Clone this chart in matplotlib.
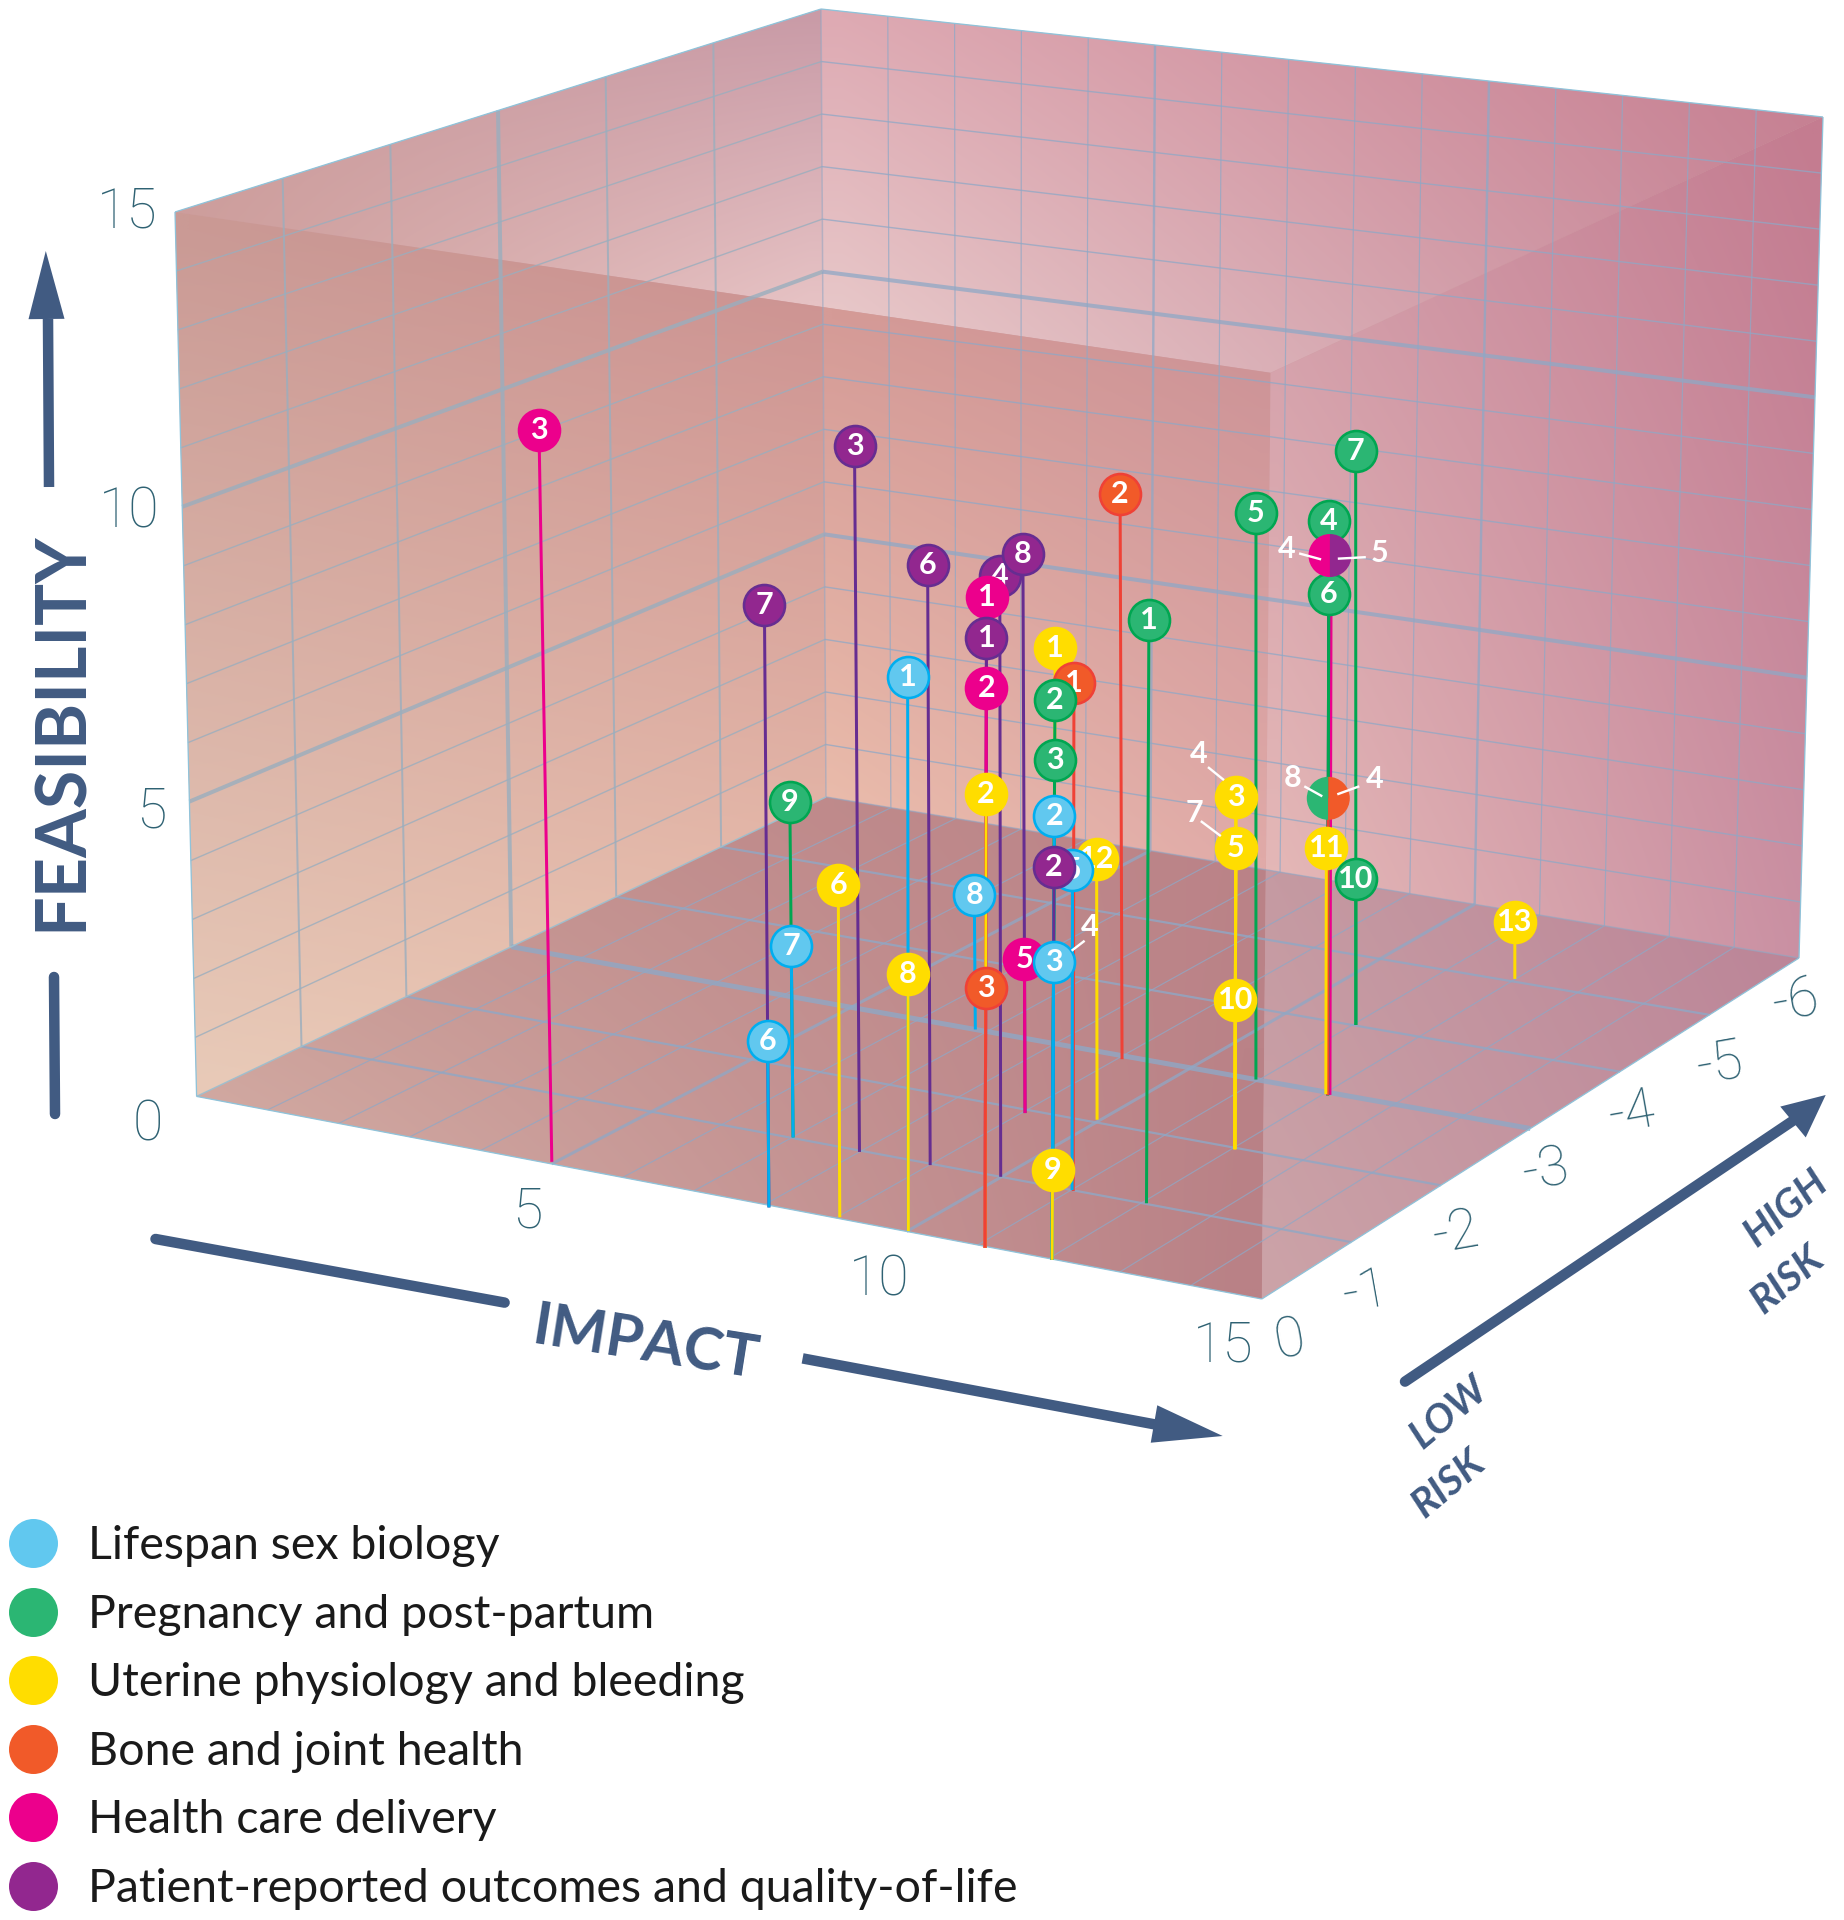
# plot.py
# 3D lollipop chart of research priorities: impact / risk / feasibility
import numpy as np
import matplotlib
matplotlib.use("Agg")
import matplotlib.pyplot as plt
from matplotlib.patches import Polygon, Wedge

# -----------------------
# data
# -----------------------
LIFESPAN_IDS = [1, 2, 3, 4, 5, 6, 7, 8]
LIFESPAN_IMPACT = [10.01, 12.06, 12.06, 12.06, 11.01, 8.1, 7.01, 6.83]
LIFESPAN_RISK = [-0.01, 0.01, 0.01, 0.01, -1.0, 0.03, -1.01, -3.0]
LIFESPAN_FEAS = [9.11, 7.25, 4.87, 4.87, 5.33, 2.75, 3.23, 2.35]

PREGNANCY_IDS = [1, 2, 3, 4, 5, 6, 7, 8, 9, 10]
PREGNANCY_IMPACT = [12.06, 12.06, 12.06, 12.07, 10.96, 12.07, 11.04, 12.07, 7.01, 11.04]
PREGNANCY_RISK = [-1.01, 0.01, 0.01, -2.96, -3.0, -2.96, -4.01, -2.96, -1.01, -4.01]
PREGNANCY_FEAS = [9.68, 9.15, 8.17, 9.84, 9.76, 8.59, 10.06, 5.09, 5.66, 2.56]

UTERINE_IDS = [1, 2, 3, 4, 5, 6, 7, 8, 9, 10, 11, 12, 13]
UTERINE_IMPACT = [12.06, 11.13, 12.04, 12.04, 12.04, 9.03, 12.04, 10.01, 12.06, 12.04, 12.03, 9.96, 11.99]
UTERINE_RISK = [0.01, 0.02, -1.98, -1.98, -1.98, -0.02, -1.98, -0.01, 0.01, -1.98, -2.97, -2.04, -5.04]
UTERINE_FEAS = [9.99, 7.44, 5.94, 5.94, 5.08, 5.48, 5.08, 4.22, 1.47, 2.52, 4.23, 4.43, 1.01]

BONE_IDS = [1, 2, 3, 4]
BONE_IMPACT = [11.04, 9.06, 11.13, 12.07]
BONE_RISK = [-0.99, -2.95, 0.02, -2.96]
BONE_FEAS = [8.46, 9.79, 4.26, 5.09]

HEALTH_IDS = [1, 2, 3, 4, 5]
HEALTH_IMPACT = [11.13, 11.13, 4.96, 12.09, 9.04]
HEALTH_RISK = [0.02, 0.02, -0.03, -2.97, -1.95]
HEALTH_FEAS = [10.66, 9.17, 12.23, 9.25, 2.63]

PATIENT_IDS = [1, 2, 3, 4, 5, 6, 7, 8]
PATIENT_IMPACT = [11.13, 12.06, 8.0, 9.99, 12.07, 9.01, 8.1, 9.04]
PATIENT_RISK = [0.02, 0.01, -0.98, -1.0, -2.96, -0.98, 0.03, -1.95]
PATIENT_FEAS = [9.99, 6.42, 11.88, 10.04, 9.25, 10.06, 9.96, 9.52]

GROUP_NAMES = [
    "Lifespan sex biology",
    "Pregnancy and post-partum",
    "Uterine physiology and bleeding",
    "Bone and joint health",
    "Health care delivery",
    "Patient-reported outcomes and quality-of-life",
]
FILL_COLORS = ["#61C8EF", "#2BB673", "#FFDD00", "#F15A29", "#EC008C", "#92278F"]
EDGE_COLORS = ["#00AEEF", "#00A651", "#FFDD00", "#EF4136", "#EC008C", "#662D91"]

IMPACT_TICKS = ["5", "10", "15"]
FEAS_TICKS = ["0", "5", "10", "15"]
RISK_TICKS = ["0", "-1", "-2", "-3", "-4", "-5", "-6"]

# -----------------------
# layout
# -----------------------
W, H = 1844, 1920
DPI = 100
MARKER_D = 41       # px
LINE_COL = "#415B82"
TICK_COL = "#2F6273"
GRID_COL = "#8FA8C6"
WALL_GRID_COL = "#9AAEBE"

# box corners on the canvas: front-left, front-right, back-right, back-left
FLOOR_PX = np.array([(196.6, 1096.4), (1261.8, 1299), (1799, 958), (826, 797)])
ROOF_PX = np.array([(175, 212), (1270.6, 372.8), (1823, 117), (821, 9)])
# stems stand upright on the right of the box, they don't follow its walls there
STEM_ROOF_PX = np.array([(166.4, 212), (1275, 372.8), (1799, 117), (821, 9)])

IMPACT_TICK_POS = [(527, 1212), (879, 1280), (1223, 1346)]
FEAS_TICK_POS = [(148, 1125), (151, 812), (129, 512), (127, 212)]
RISK_TICK_POS = [(1290, 1341), (1366, 1293), (1456, 1234), (1546, 1171),
                 (1632, 1114), (1720, 1064), (1796, 1002)]

LEGEND_Y = [1543, 1611.5, 1680, 1748.6, 1817, 1885.7]

# markers that carry their number on a leader: text offset, leader start, leader end
LEADERS = {
    (2, 4): ((-37, -43), (-28, -30), (-12, -17)),
    (2, 7): ((-41, -35), (-35, -27), (-15, -12)),
    (1, 8): ((-36, -20), (-24, -12), (-6, -2)),
    (3, 4): ((46, -19), (9, -4), (31, -12)),
    (4, 4): ((-44, -6), (-32, -2), (-10, 4)),
    (5, 5): ((51, -3), (9, 3), (37, 1.5)),
    (0, 4): ((36, -35), (18, -11), (31, -21)),
}
# two-tone markers (left group/id, right group/id)
SPLITS = [((4, 4), (5, 5)), ((1, 8), (3, 4))]
# these sit above their neighbours although they are higher up
RAISED = [(5, 2), (5, 8)]


def project(i, r, f, roof=ROOF_PX):
    a, b, c = i / 15, -r / 6, f / 15
    w = np.array([(1 - a) * (1 - b), a * (1 - b), a * b, (1 - a) * b])
    p = (1 - c) * (w @ FLOOR_PX) + c * (w @ roof)
    return float(p[0]), float(p[1])


def cross_point(p1, p2, p3, p4):
    a = np.array([[p2[0] - p1[0], p3[0] - p4[0]], [p2[1] - p1[1], p3[1] - p4[1]]])
    b = np.array([p3[0] - p1[0], p3[1] - p1[1]])
    t = np.linalg.solve(a, b)[0]
    return (p1[0] + t * (p2[0] - p1[0]), p1[1] + t * (p2[1] - p1[1]))


def hex_rgb(c):
    return np.array(matplotlib.colors.to_rgb(c))


def shaded(ax, poly, tl, tr, bl, br):
    # bilinear colour ramp over the bbox of the polygon
    xs = [p[0] for p in poly]
    ys = [p[1] for p in poly]
    t = np.linspace(0, 1, 24)
    tx, ty = np.meshgrid(t, t)
    img = np.zeros((24, 24, 3))
    for k in range(3):
        img[:, :, k] = ((1 - tx) * (1 - ty) * hex_rgb(tl)[k] + tx * (1 - ty) * hex_rgb(tr)[k]
                        + (1 - tx) * ty * hex_rgb(bl)[k] + tx * ty * hex_rgb(br)[k])
    im = ax.imshow(img, extent=(min(xs), max(xs), max(ys), min(ys)), aspect="auto",
                   interpolation="bilinear", zorder=1)
    im.set_clip_path(Polygon(poly, closed=True, transform=ax.transData))


def seg(ax, a, b, px, col, alpha=1.0, z=2, cap="butt"):
    ax.plot([a[0], b[0]], [a[1], b[1]], color=col, lw=px * 72 / DPI, alpha=alpha,
            zorder=z, solid_capstyle=cap)


def arrow_head(ax, base, tip, half):
    d = np.array(tip, float) - np.array(base, float)
    n = np.array([-d[1], d[0]]) / np.hypot(*d) * half
    b = np.array(base, float)
    ax.add_patch(Polygon([tip, b + n, b - n], closed=True, fc=LINE_COL, ec="none", zorder=3))


def main():
    fig = plt.figure(figsize=(W / DPI, H / DPI), dpi=DPI)
    ax = fig.add_axes([0, 0, 1, 1])
    ax.set_xlim(0, W)
    ax.set_ylim(H, 0)
    ax.axis("off")

    # -----------------------
    # box faces
    # -----------------------
    E, G, Hh, K = [tuple(p) for p in FLOOR_PX]
    A, B, C, D = [tuple(p) for p in ROOF_PX]
    M = cross_point(A, B, D, K)
    N = cross_point(K, Hh, B, G)

    ax.add_patch(Polygon([E, A, D, C, Hh, G], closed=True, fc="#D0A0A4", ec="none", zorder=0.5))
    shaded(ax, [A, D, M], "#C9999A", "#C99BA7", "#CFA09D", "#E6C2C4")
    shaded(ax, [D, C, B, M], "#DEAAB3", "#C67D90", "#E9CCCC", "#C88C9C")
    shaded(ax, [A, M, K, E], "#CA9A95", "#CB9090", "#E8CAB8", "#EDC4B0")
    shaded(ax, [M, B, N, K], "#D59B97", "#CC9296", "#ECBFAD", "#E0AAA8")
    shaded(ax, [E, K, N, G], "#C59590", "#BB8388", "#D8B4AB", "#B98186")
    shaded(ax, [B, C, Hh, N], "#D09AA8", "#C47C90", "#E6BAB8", "#C98FA2")
    shaded(ax, [N, Hh, G], "#C59AA2", "#BB8497", "#CCA3A8", "#C08C9C")

    # -----------------------
    # grids
    # -----------------------
    for f in range(1, 15):
        wide = f in (5, 10)
        seg(ax, project(0, 0, f), project(0, -6, f), 4 if wide else 1.4, WALL_GRID_COL, 0.8)
        seg(ax, project(0, -6, f), project(15, -6, f), 4 if wide else 1.4, GRID_COL, 0.75)
    for r in range(-5, 0):
        seg(ax, project(0, r, 0), project(0, r, 15), 4 if r == -3 else 2, WALL_GRID_COL, 0.8)
        seg(ax, project(0, r, 0), project(15, r, 0), 5 if r == -3 else 2.2, GRID_COL, 0.8)
    for i in range(1, 15):
        wide = i in (5, 10)
        seg(ax, project(i, -6, 0), project(i, -6, 15), 2.4 if wide else 1.2, GRID_COL, 0.75)
        seg(ax, project(i, 0, 0), project(i, -6, 0), 3 if wide else 1.2, GRID_COL, 0.75)

    seg(ax, D, K, 1.6, GRID_COL, 0.5)
    seg(ax, E, K, 1.5, "#9CC0D0", 0.9)
    seg(ax, K, Hh, 1.5, GRID_COL, 0.6)
    outline = [E, A, D, C, Hh, G, E]
    for a, b in zip(outline[:-1], outline[1:]):
        seg(ax, a, b, 1.3, "#8FC3DA", 1.0, z=2.5)

    # -----------------------
    # ticks
    # -----------------------
    tick_kw = dict(family="Roboto", weight="light", fontsize=40, color=TICK_COL,
                   ha="center", va="center", zorder=4)
    for s, p in zip(IMPACT_TICKS, IMPACT_TICK_POS):
        ax.text(p[0], p[1], s, **tick_kw)
    for s, p in zip(FEAS_TICKS, FEAS_TICK_POS):
        ax.text(p[0], p[1], s, **tick_kw)
    for s, p in zip(RISK_TICKS, RISK_TICK_POS):
        ax.text(p[0], p[1], s, rotation=10, **tick_kw)

    # -----------------------
    # axis arrows and titles
    # -----------------------
    seg(ax, (54, 977), (55, 1114), 10.5, LINE_COL, z=3, cap="round")
    seg(ax, (48, 319), (49, 487), 10.5, LINE_COL, z=3)
    arrow_head(ax, (46.5, 319), (45.8, 251), 18)
    ax.text(61, 731, "FEASIBILITY", family="Lato", weight="bold", fontsize=50.5, color=LINE_COL,
            rotation=90, ha="center", va="center", zorder=4)

    seg(ax, (155.5, 1239), (504.6, 1302.6), 10.5, LINE_COL, z=3, cap="round")
    seg(ax, (802.6, 1358.4), (1158, 1425), 10.5, LINE_COL, z=3)
    arrow_head(ax, (1154, 1424), (1222.7, 1436), 19)
    ax.text(646, 1344, "IMPACT", family="Lato", weight="bold", fontsize=43, color=LINE_COL,
            rotation=-9, ha="center", va="center", zorder=4)

    seg(ax, (1405, 1381.6), (1797, 1118), 10.5, LINE_COL, z=3, cap="round")
    arrow_head(ax, (1793, 1122), (1825.7, 1095), 20)
    for s, x, y in [("LOW", 1449, 1413), ("RISK", 1449, 1484), ("HIGH", 1786, 1208), ("RISK", 1788, 1280)]:
        ax.text(x, y, s, family="Lato", weight="bold", style="italic", fontsize=29, color=LINE_COL,
                rotation=40, ha="center", va="center", zorder=4)

    # -----------------------
    # lollipops
    # -----------------------
    groups = [
        (LIFESPAN_IDS, LIFESPAN_IMPACT, LIFESPAN_RISK, LIFESPAN_FEAS),
        (PREGNANCY_IDS, PREGNANCY_IMPACT, PREGNANCY_RISK, PREGNANCY_FEAS),
        (UTERINE_IDS, UTERINE_IMPACT, UTERINE_RISK, UTERINE_FEAS),
        (BONE_IDS, BONE_IMPACT, BONE_RISK, BONE_FEAS),
        (HEALTH_IDS, HEALTH_IMPACT, HEALTH_RISK, HEALTH_FEAS),
        (PATIENT_IDS, PATIENT_IMPACT, PATIENT_RISK, PATIENT_FEAS),
    ]
    points = []
    for g, (ids, imp, risk, feas) in enumerate(groups):
        for n, i, r, f in zip(ids, imp, risk, feas):
            points.append((g, n, project(i, r, f, STEM_ROOF_PX), project(i, r, 0)))
    # a lower marker's stem paints over the stems of the ones above it
    points.sort(key=lambda q: q[2][1])
    where = {(g, n): top for g, n, top, _ in points}

    split_ids = [k for pair in SPLITS for k in pair]
    for idx, (g, n, top, base) in enumerate(points):
        ax.plot([top[0], base[0]], [top[1], base[1]], color=EDGE_COLORS[g], lw=3 * 72 / DPI,
                zorder=5 + idx * 0.01, solid_capstyle="butt")
        if (g, n) in LEADERS or (g, n) in split_ids:
            continue
        z = 7 + idx * 0.01 + (1 if (g, n) in RAISED else 0)
        ax.scatter([top[0]], [top[1]], s=(MARKER_D * 72 / DPI) ** 2, c=FILL_COLORS[g],
                   edgecolors=EDGE_COLORS[g], linewidths=2.6 * 72 / DPI, zorder=z)
        ax.text(top[0], top[1], str(n), family="Lato", weight="bold", fontsize=22, color="white",
                ha="center", va="center", zorder=z + 0.005)

    for left, right in SPLITS:
        cx = (where[left][0] + where[right][0]) / 2
        cy = (where[left][1] + where[right][1]) / 2
        ax.add_patch(Wedge((cx, cy), MARKER_D / 2 + 1, 90, 270, fc=FILL_COLORS[left[0]], ec="none", zorder=7.9))
        ax.add_patch(Wedge((cx, cy), MARKER_D / 2 + 1, -90, 90, fc=FILL_COLORS[right[0]], ec="none", zorder=7.9))

    for (g, n), (txt, p0, p1) in LEADERS.items():
        cx, cy = where[(g, n)]
        seg(ax, (cx + p0[0], cy + p0[1]), (cx + p1[0], cy + p1[1]), 2.4, "white", z=9)
        ax.text(cx + txt[0], cy + txt[1], str(n), family="Lato", weight="bold", fontsize=22,
                color="white", ha="center", va="center", zorder=9)

    # -----------------------
    # legend
    # -----------------------
    for y, name, col in zip(LEGEND_Y, GROUP_NAMES, FILL_COLORS):
        ax.scatter([33], [y], s=(49 * 72 / DPI) ** 2, c=col, linewidths=0, zorder=4)
        ax.text(88, y + 16, name, family="Lato", fontsize=33.5, color="#1A1A1A", ha="left",
                va="baseline", zorder=4)

    fig.savefig("out.png", dpi=DPI)
    plt.close(fig)


if __name__ == "__main__":
    main()
